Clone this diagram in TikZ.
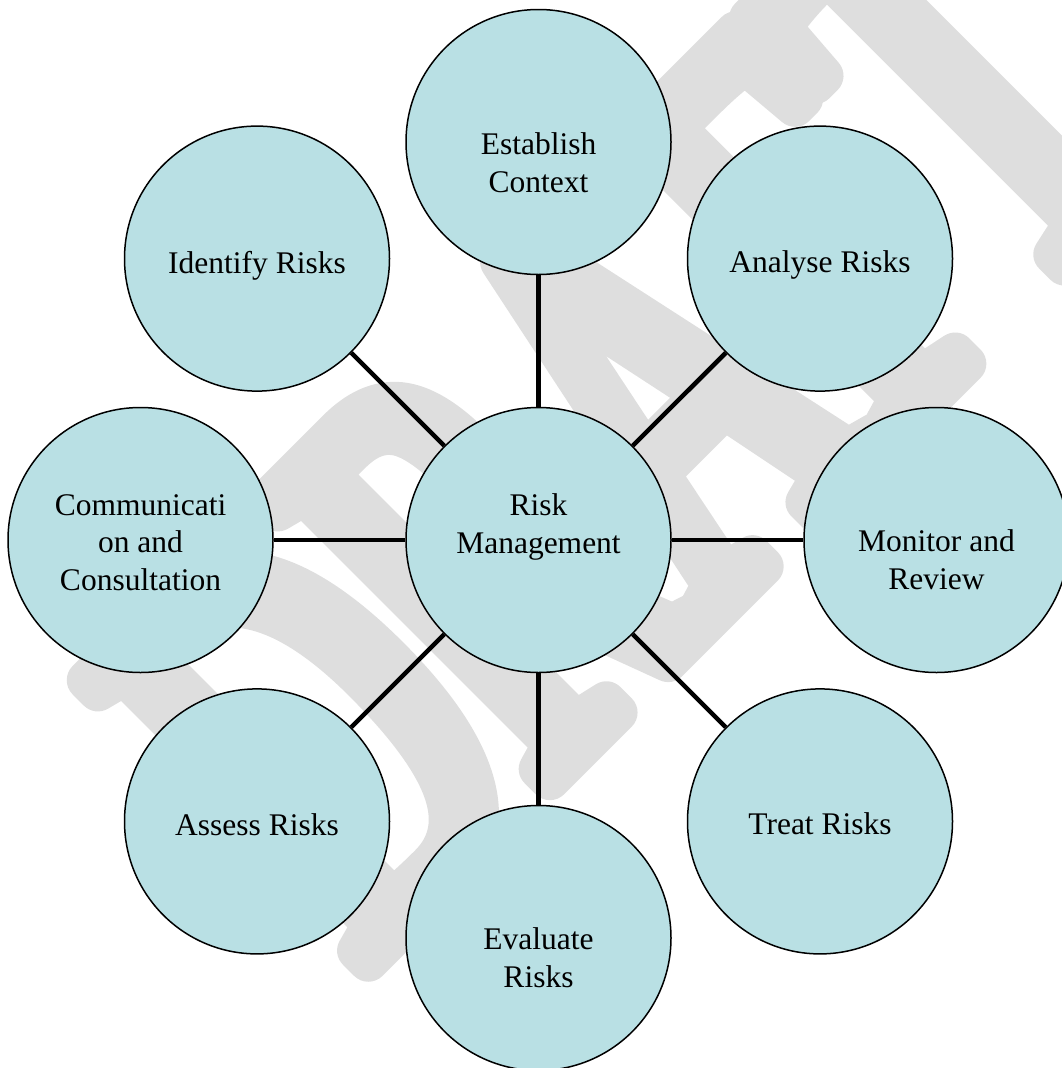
\documentclass[tikz,border=0pt]{standalone}
\usepackage{fontspec}
\setmainfont{Liberation Serif}
\newfontfamily\wmfamily[FakeStretch=0.58]{Liberation Serif}
\definecolor{bubblefill}{RGB}{185,224,228}
\definecolor{wmgray}{RGB}{222,222,222}
\tikzset{
  bubble/.style={circle, draw=black, line width=1.5pt, fill=bubblefill, minimum size=265pt, inner sep=0pt},
  lbl/.style={align=center, anchor=base, font=\fontsize{31.5}{37.5}\selectfont, inner sep=0pt},
  conn/.style={line width=4.5pt, draw=black},
}
\begin{document}
\begin{tikzpicture}[x=1pt,y=-1pt]
\useasboundingbox (0,0) rectangle (1061,1068);
% watermark
\node[rotate=45, anchor=base west, inner sep=0pt, font=\wmfamily\fontsize{608}{608}\selectfont] (wm) at (361,969)
  {\color{wmgray}\special{pdf:code 1 Tr 40 w 1 J 1 j 0.871 0.871 0.871 RG}DRAFT\special{pdf:code 0 Tr}};
% circles
\node[bubble] (rm)  at (538.5,540)   {};
\node[bubble] (est) at (538.5,142)   {};
\node[bubble] (ana) at (820,258.6)   {};
\node[bubble] (mon) at (936.5,540)   {};
\node[bubble] (tre) at (820,821.4)   {};
\node[bubble] (eva) at (538.5,938)   {};
\node[bubble] (ass) at (257,821.4)   {};
\node[bubble] (com) at (140.5,540)   {};
\node[bubble] (ide) at (257,258.6)   {};
% connectors
\foreach \n in {est,ana,mon,tre,eva,ass,com,ide}
  \draw[conn] (rm) -- (\n);
% labels (anchor = baseline of last line)
\node[lbl] (trm)  at (538.5,553) {Risk\\Management};
\node[lbl] (test) at (538.5,192) {Establish\\Context};
\node[lbl] (tana) at (820,272)   {Analyse Risks};
\node[lbl] (tmon) at (936.5,589) {Monitor and\\Review};
\node[lbl] (ttre) at (820,834)   {Treat Risks};
\node[lbl] (teva) at (538.5,987) {Evaluate\\Risks};
\node[lbl] (tass) at (257,835)   {Assess Risks};
\node[lbl] (tcom) at (140.5,590) {Communicati\\on and\\Consultation};
\node[lbl] (tide) at (257,273)   {Identify Risks};
\end{tikzpicture}
\end{document}
